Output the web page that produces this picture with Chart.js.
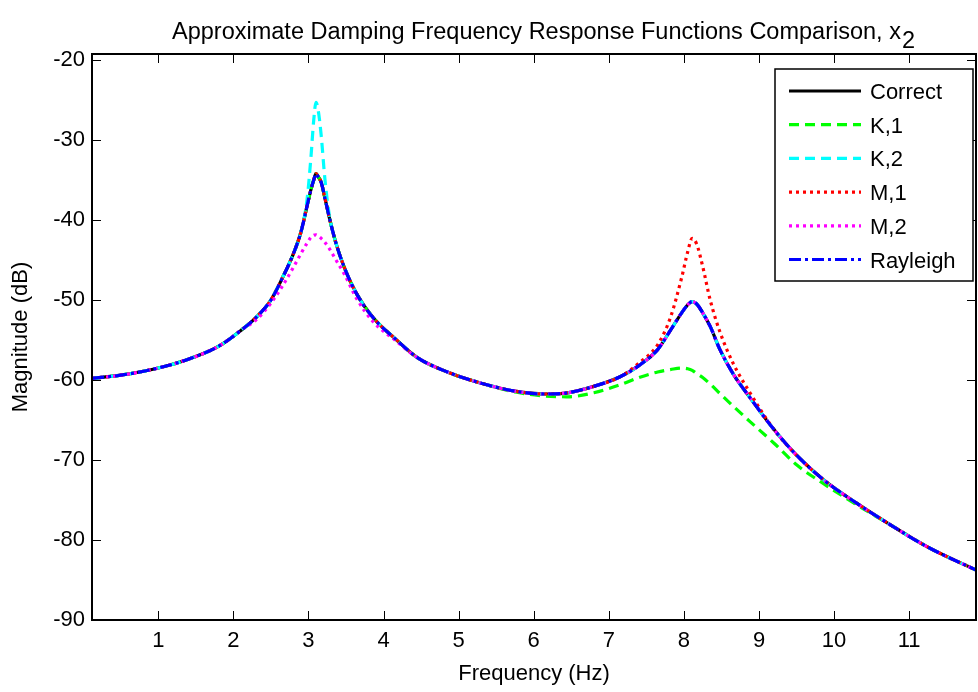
<!DOCTYPE html>
<html>
<head>
  <meta charset="UTF-8">
  <title>Approximate Damping Frequency Response Functions Comparison</title>
  <script src="https://cdn.jsdelivr.net/npm/chart.js"></script>
  <style>
    body {
      margin: 0;
      background: #fff;
    }
  </style>
</head>
<body>
  <canvas id="frfChart" width="978" height="692"></canvas>

  <script>
    // frequency grid (Hz) shared by every curve
    var freqHz = [0.12, 0.5, 1.0, 1.4, 1.8, 2.1, 2.3, 2.5, 2.65, 2.8,
      2.9, 2.98, 3.03, 3.07, 3.1, 3.13, 3.17, 3.22, 3.28, 3.36,
      3.48, 3.64, 3.86, 4.15, 4.45, 4.85, 5.3, 5.75, 6.15, 6.45,
      6.8, 7.15, 7.4, 7.65, 7.82, 7.97, 8.05, 8.11, 8.17, 8.25,
      8.35, 8.48, 8.66, 8.88, 9.2, 9.5, 9.85, 10.3, 10.75, 11.25, 11.9];

    // magnitudes in dB
    var magCorrect = [-59.8, -59.4, -58.5, -57.4, -55.8, -53.8, -52.2, -50.0, -47.3, -44.2,
      -41.5, -38.3, -36.3, -35.0, -34.2, -34.6, -35.3, -37.3, -39.8, -42.7,
      -46.0, -49.2, -52.2, -54.8, -57.2, -59.0, -60.4, -61.4, -61.75, -61.6,
      -60.8, -59.6, -58.2, -56.2, -53.8, -51.6, -50.6, -50.2, -50.5, -51.6,
      -53.3, -56.2, -59.3, -62.2, -66.2, -69.4, -72.4, -75.4, -78.1, -80.9, -83.8];

    var magK1 = [-59.8, -59.4, -58.5, -57.4, -55.8, -53.8, -52.2, -50.0, -47.3, -44.2,
      -41.5, -38.3, -36.3, -35.0, -34.2, -34.6, -35.3, -37.3, -39.8, -42.7,
      -46.0, -49.2, -52.2, -54.8, -57.2, -59.0, -60.4, -61.5, -62.0, -62.1,
      -61.6, -60.6, -59.7, -59.0, -58.7, -58.5, -58.6, -58.8, -59.2, -59.7,
      -60.5, -61.7, -63.3, -65.2, -67.9, -70.6, -72.9, -75.6, -78.1, -80.9, -83.8];

    var magK2 = [-59.8, -59.4, -58.5, -57.4, -55.8, -53.8, -52.2, -50.0, -47.3, -44.2,
      -41.5, -37.5, -32.5, -27.5, -25.3, -26.3, -29.5, -35.0, -39.5, -42.7,
      -46.0, -49.2, -52.2, -54.8, -57.2, -59.0, -60.4, -61.4, -61.75, -61.6,
      -60.8, -59.6, -58.2, -56.2, -53.8, -51.6, -50.6, -50.2, -50.5, -51.6,
      -53.3, -56.2, -59.3, -62.2, -66.2, -69.4, -72.4, -75.4, -78.1, -80.9, -83.8];

    var magM1 = [-59.8, -59.4, -58.5, -57.4, -55.8, -53.8, -52.2, -50.0, -47.3, -44.2,
      -41.5, -38.3, -36.3, -35.0, -34.2, -34.6, -35.3, -37.3, -39.8, -42.7,
      -46.0, -49.2, -52.2, -54.8, -57.2, -59.0, -60.4, -61.4, -61.75, -61.6,
      -60.8, -59.6, -57.9, -55.6, -52.2, -47.2, -44.0, -42.3, -43.0, -45.8,
      -50.0, -54.0, -58.0, -61.6, -66.2, -69.4, -72.4, -75.4, -78.1, -80.9, -83.8];

    var magM2 = [-59.8, -59.4, -58.5, -57.4, -55.8, -53.8, -52.5, -50.4, -48.3, -45.9,
      -44.2, -42.9, -42.2, -41.9, -41.85, -42.0, -42.3, -42.8, -43.6, -44.9,
      -46.8, -49.8, -52.7, -55.0, -57.2, -59.0, -60.4, -61.4, -61.75, -61.6,
      -60.8, -59.6, -58.2, -56.2, -53.8, -51.6, -50.6, -50.2, -50.5, -51.6,
      -53.3, -56.2, -59.3, -62.2, -66.2, -69.4, -72.4, -75.4, -78.1, -80.9, -83.8];

    var magRayleigh = [-59.8, -59.4, -58.5, -57.4, -55.8, -53.8, -52.2, -50.0, -47.3, -44.2,
      -41.5, -38.3, -36.3, -35.0, -34.2, -34.6, -35.3, -37.3, -39.8, -42.7,
      -46.0, -49.2, -52.2, -54.8, -57.2, -59.0, -60.4, -61.4, -61.75, -61.6,
      -60.8, -59.6, -58.2, -56.2, -53.8, -51.6, -50.6, -50.2, -50.5, -51.6,
      -53.3, -56.2, -59.3, -62.2, -66.2, -69.4, -72.4, -75.4, -78.1, -80.9, -83.8];

    var seriesNames = ['Correct', 'K,1', 'K,2', 'M,1', 'M,2', 'Rayleigh'];
    var xTickValues = [1, 2, 3, 4, 5, 6, 7, 8, 9, 10, 11];
    var yTickValues = [-90, -80, -70, -60, -50, -40, -30, -20];

    var FONT = '"Liberation Sans", Arial, sans-serif';
    Chart.defaults.font.family = FONT;
    Chart.defaults.color = '#000';

    function toPoints(arr) {
      return freqHz.map(function (f, i) { return { x: f, y: arr[i] }; });
    }

    function makeSet(i, arr, color, dash) {
      return {
        label: seriesNames[i],
        data: toPoints(arr),
        borderColor: color,
        borderWidth: 3.2,
        borderDash: dash,
        pointRadius: 0,
        fill: false,
        cubicInterpolationMode: 'monotone',
        order: 6 - i   // later series painted on top, like MATLAB
      };
    }

    // box, inward ticks, legend and title, MATLAB style
    var matlabFrame = {
      id: 'matlabFrame',
      afterDraw: function (chart) {
        var ctx = chart.ctx;
        var a = chart.chartArea;
        var xs = chart.scales.x, ys = chart.scales.y;
        var tl = 9;

        ctx.save();
        ctx.strokeStyle = '#000';
        ctx.lineWidth = 1;
        ctx.beginPath();
        xTickValues.forEach(function (v) {
          var px = Math.round(xs.getPixelForValue(v)) + 0.5;
          ctx.moveTo(px, a.bottom); ctx.lineTo(px, a.bottom - tl);
          ctx.moveTo(px, a.top); ctx.lineTo(px, a.top + tl);
        });
        yTickValues.forEach(function (v) {
          var py = Math.round(ys.getPixelForValue(v)) + 0.5;
          ctx.moveTo(a.left, py); ctx.lineTo(a.left + tl, py);
          ctx.moveTo(a.right, py); ctx.lineTo(a.right - tl, py);
        });
        ctx.stroke();

        ctx.lineWidth = 2;
        ctx.strokeRect(a.left, a.top, a.right - a.left, a.bottom - a.top);

        // legend box
        var bx = a.right - 201, by = a.top + 15, bw = 198, bh = 212;
        ctx.fillStyle = '#fff';
        ctx.fillRect(bx, by, bw, bh);
        ctx.lineWidth = 1.5;
        ctx.strokeRect(bx, by, bw, bh);
        ctx.font = '22px ' + FONT;
        ctx.textBaseline = 'middle';
        ctx.textAlign = 'left';
        chart.data.datasets.forEach(function (ds, i) {
          var ly = by + 22 + i * 33.7;
          ctx.beginPath();
          ctx.strokeStyle = ds.borderColor;
          ctx.lineWidth = ds.borderWidth;
          ctx.setLineDash(ds.borderDash || []);
          ctx.moveTo(bx + 14, ly);
          ctx.lineTo(bx + 86, ly);
          ctx.stroke();
          ctx.setLineDash([]);
          ctx.fillStyle = '#000';
          ctx.fillText(ds.label, bx + 95, ly + 2);
        });

        // title with subscript
        var main = 'Approximate Damping Frequency Response Functions Comparison, x';
        ctx.font = '23.5px ' + FONT;
        ctx.textBaseline = 'alphabetic';
        var w = ctx.measureText(main).width;
        var sub = '2';
        var ws = ctx.measureText(sub).width;
        var tx = (a.left + a.right) / 2 - (w + ws) / 2 + 9;
        ctx.fillStyle = '#000';
        ctx.fillText(main, tx, 39);
        ctx.fillText(sub, tx + w + 1, 48);
        ctx.restore();
      }
    };

    var ctx = document.getElementById('frfChart').getContext('2d');
    var frfChart = new Chart(ctx, {
      type: 'line',
      data: {
        datasets: [
          makeSet(0, magCorrect, '#000000', []),
          makeSet(1, magK1, '#00ff00', [10, 6]),
          makeSet(2, magK2, '#00ffff', [10, 6]),
          makeSet(3, magM1, '#ff0000', [3, 4]),
          makeSet(4, magM2, '#ff00ff', [3, 4]),
          makeSet(5, magRayleigh, '#0000ff', [12, 4, 3, 4])
        ]
      },
      options: {
        responsive: false,
        animation: false,
        layout: { padding: { top: 54, right: 2, left: 0, bottom: 0 } },
        plugins: {
          legend: { display: false },
          tooltip: { enabled: false },
          title: { display: false }
        },
        scales: {
          x: {
            type: 'linear',
            min: 0.117,
            max: 11.89,
            afterBuildTicks: function (s) { s.ticks = xTickValues.map(function (v) { return { value: v }; }); },
            afterFit: function (s) { s.height = 72; },
            grid: { display: false, drawTicks: false },
            border: { display: false },
            ticks: { font: { size: 22 }, padding: 8, maxRotation: 0 },
            title: { display: true, text: 'Frequency (Hz)', font: { size: 22 }, padding: { top: 0, bottom: 5 } }
          },
          y: {
            min: -90,
            max: -19.25,
            afterBuildTicks: function (s) { s.ticks = yTickValues.map(function (v) { return { value: v }; }); },
            afterFit: function (s) { s.width = 92; },
            grid: { display: false, drawTicks: false },
            border: { display: false },
            ticks: { font: { size: 22 }, padding: 7 },
            title: { display: true, text: 'Magnitude (dB)', font: { size: 22 }, padding: { top: 8, bottom: 0 } }
          }
        }
      },
      plugins: [matlabFrame]
    });
  </script>
</body>
</html>
